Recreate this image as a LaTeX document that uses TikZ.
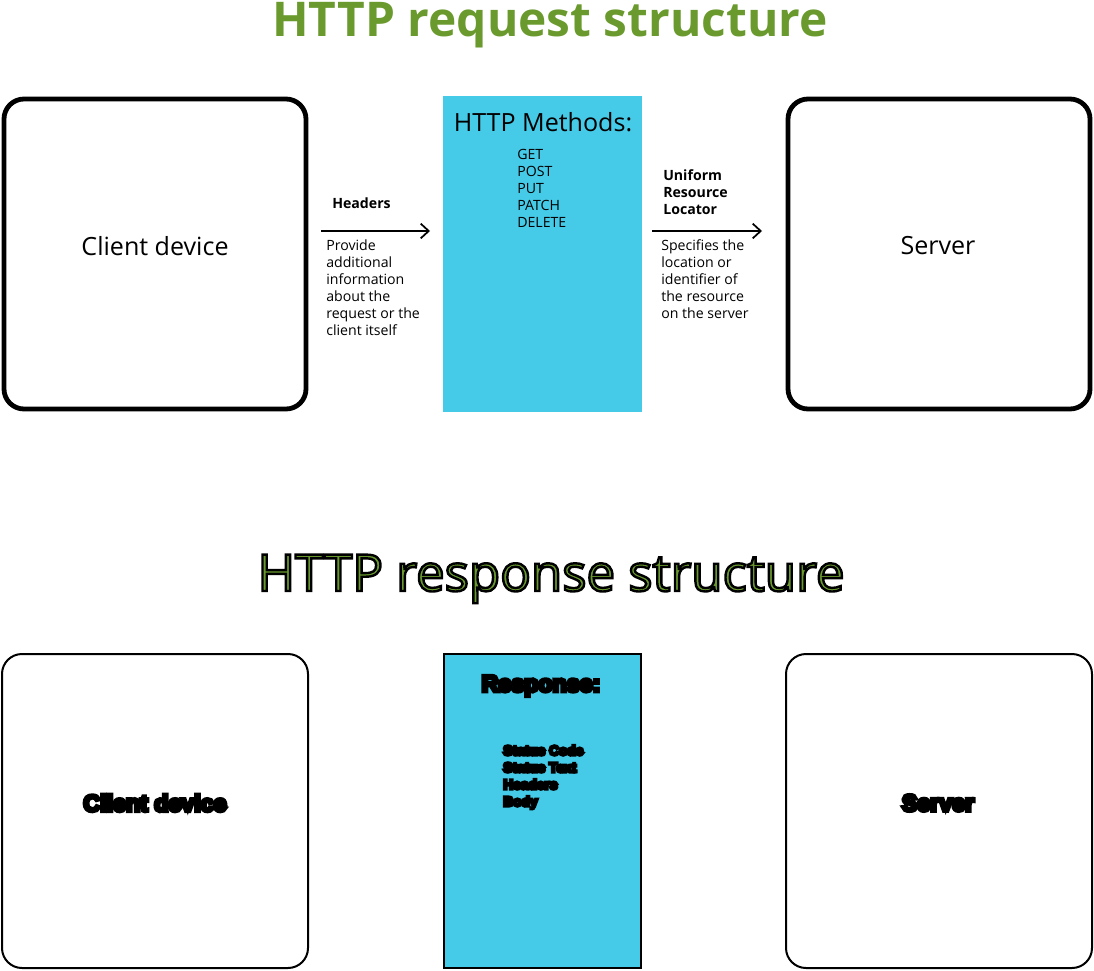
\documentclass[tikz,border=0pt]{standalone}
\usepackage{fontspec}
\setmainfont{Open Sans}
\newfontfamily\heavyfont{Liberation Sans}
\usetikzlibrary{arrows.meta}
\definecolor{titlegreen}{HTML}{6A9A2E}
\definecolor{boxblue}{HTML}{45CBE8}
% fill+stroke text: #1 = stroke width (bp), #2 = text
\newcommand\strokedtext[2]{\special{pdf:literal direct #1 w 2 Tr}#2\special{pdf:literal direct 0 Tr}}
\newcommand\outlinedtext[2]{\special{pdf:literal direct 0 0 0 RG #1 w 2 Tr}#2\special{pdf:literal direct 0 Tr}}
\tikzset{
  devbox/.style={draw=black, line width=3.6pt, rounded corners=15pt, fill=white},
  devboxthin/.style={draw=black, line width=1.5pt, rounded corners=15pt, fill=white},
  bluebox/.style={fill=boxblue, draw=none},
  blueboxb/.style={fill=boxblue, draw=black, line width=1.5pt},
  bigtxt/.style={font=\fontsize{18.8}{22}\selectfont, inner sep=0pt},
  smalltxt/.style={font=\fontsize{10.6}{12.75}\selectfont, align=left, inner sep=0pt},
  boldsmall/.style={font=\fontsize{10.6}{12.75}\selectfont\bfseries, align=left, inner sep=0pt},
  heavysmall/.style={font=\fontsize{10.3}{12.75}\heavyfont\bfseries, align=left, inner sep=0pt},
  heavybig/.style={font=\fontsize{17.4}{20}\heavyfont\bfseries, inner sep=0pt},
  arrowline/.style={line width=1.3pt, -{Straight Barb[length=6pt,width=11pt,line width=1.3pt]}},
}
\begin{document}
\begin{tikzpicture}[x=0.75pt,y=-0.75pt]
\useasboundingbox (0,0) rectangle (1094,970);
% titles
\node[font=\fontsize{35.9}{40}\selectfont\bfseries, text=titlegreen, inner sep=0pt, anchor=base] (t1) at (550,37) {HTTP request structure};
\node[font=\fontsize{38.2}{42}\selectfont, text=titlegreen, inner sep=0pt, anchor=base] (t2) at (551,591) {\outlinedtext{1.8}{HTTP response structure}};
% request boxes
\draw[devbox] (4,99) rectangle (306,409);
\node[bigtxt] (c1) at (155,246) {Client device};
\fill[bluebox] (443,96) rectangle (642,412);
\node[bigtxt] (hm) at (543,122) {HTTP Methods:};
\node[smalltxt, anchor=north west] (ml) at (517,149) {GET\\POST\\PUT\\PATCH\\DELETE};
\draw[devbox] (788,99) rectangle (1090,409);
\node[bigtxt] (s1) at (938,246) {Server};
% arrows and labels
\coordinate (a1s) at (321,231);
\coordinate (a1e) at (430,231);
\draw[arrowline] (a1s) -- (a1e);
\node[boldsmall, anchor=west] (hd) at (332,203) {Headers};
\node[smalltxt, anchor=north west] (hdd) at (326,239.5) {Provide\\additional\\information\\about the\\request or the\\client itself};
\coordinate (a2s) at (652,231);
\coordinate (a2e) at (762,231);
\draw[arrowline] (a2s) -- (a2e);
\node[boldsmall, anchor=north west] (url) at (663,169.5) {Uniform\\Resource\\Locator};
\node[smalltxt, anchor=north west] (urld) at (661,239.5) {Specifies the\\location or\\identifier of\\the resource\\on the server};
% response boxes
\draw[devboxthin] (2,654) rectangle (308,968);
\node[heavybig] (c2) at (155,803) {\strokedtext{2.7}{Client device}};
\draw[blueboxb] (444,654) rectangle (641,968);
\node[heavybig] (rs) at (541,686) {\strokedtext{2.7}{Response:}};
\node[heavysmall, anchor=north west] (rl) at (503,745) {\strokedtext{2.1}{Status Code}\\\strokedtext{2.1}{Status Text}\\\strokedtext{2.1}{Headers}\\\strokedtext{2.1}{Body}};
\draw[devboxthin] (786,654) rectangle (1092,968);
\node[heavybig] (s2) at (938,803) {\strokedtext{2.7}{Server}};
\end{tikzpicture}
\end{document}
